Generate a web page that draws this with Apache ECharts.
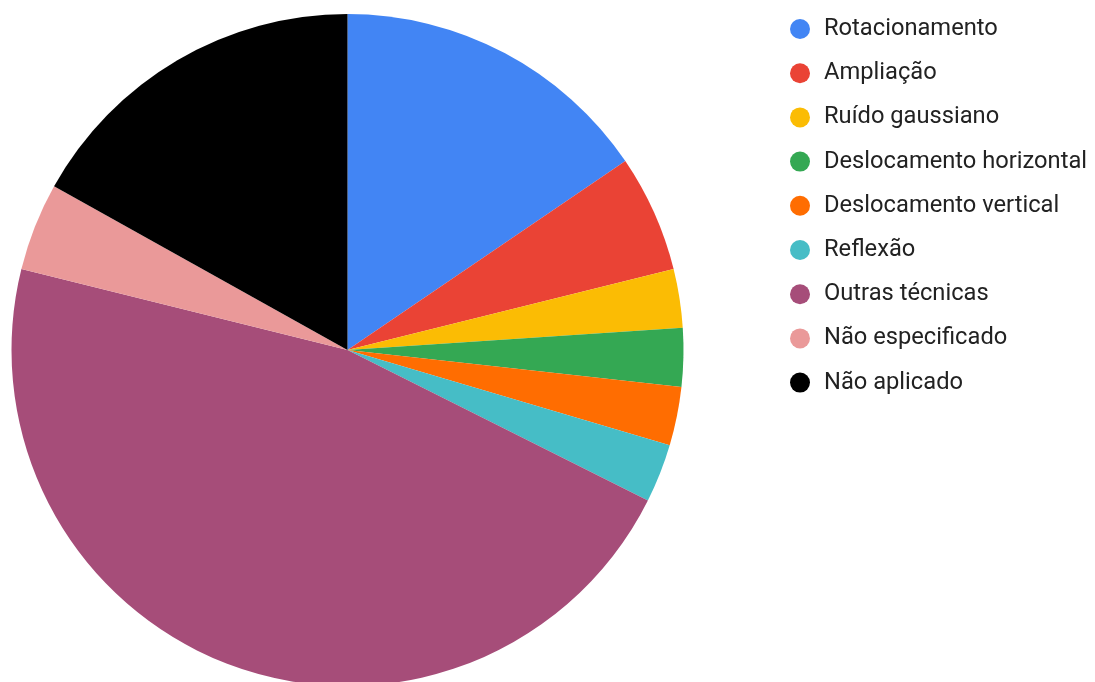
<!DOCTYPE html>
<html>
<head>
<meta charset="utf-8">
<script src="https://cdn.jsdelivr.net/npm/echarts@6/dist/echarts.min.js"></script>
<style>
  html, body { margin: 0; padding: 0; background: #fff; }
  #chart { width: 1095px; height: 682px; }
</style>
</head>
<body>
<div id="chart"></div>
<script>
// Data augmentation techniques reported
const categories = [
  'Rotacionamento',
  'Ampliação',
  'Ruído gaussiano',
  'Deslocamento horizontal',
  'Deslocamento vertical',
  'Reflexão',
  'Outras técnicas',
  'Não especificado',
  'Não aplicado'
];
const counts = [11, 4, 2, 2, 2, 2, 33, 3, 12];
const colors = ['#4285f4', '#ea4335', '#fbbc04', '#34a853', '#ff6d01', '#46bdc6', '#a64d79', '#ea9999', '#000000'];

const chart = echarts.init(document.getElementById('chart'), null, { renderer: 'canvas' });
chart.setOption({
  animation: false,
  color: colors,
  legend: {
    orient: 'vertical',
    left: 790,
    top: 17,
    padding: 0,
    icon: 'circle',
    itemWidth: 38,
    itemHeight: 20,
    itemGap: 20.2,
    textStyle: {
      fontFamily: 'Roboto',
      fontSize: 23.7,
      lineHeight: 20,
      color: '#222222'
    },
    data: categories
  },
  series: [{
    type: 'pie',
    center: [347.5, 350],
    radius: 336,
    startAngle: 90,
    clockwise: true,
    label: { show: false },
    labelLine: { show: false },
    emphasis: { disabled: true },
    itemStyle: { borderWidth: 0 },
    data: categories.map((name, i) => ({ name, value: counts[i] }))
  }]
});
</script>
</body>
</html>
